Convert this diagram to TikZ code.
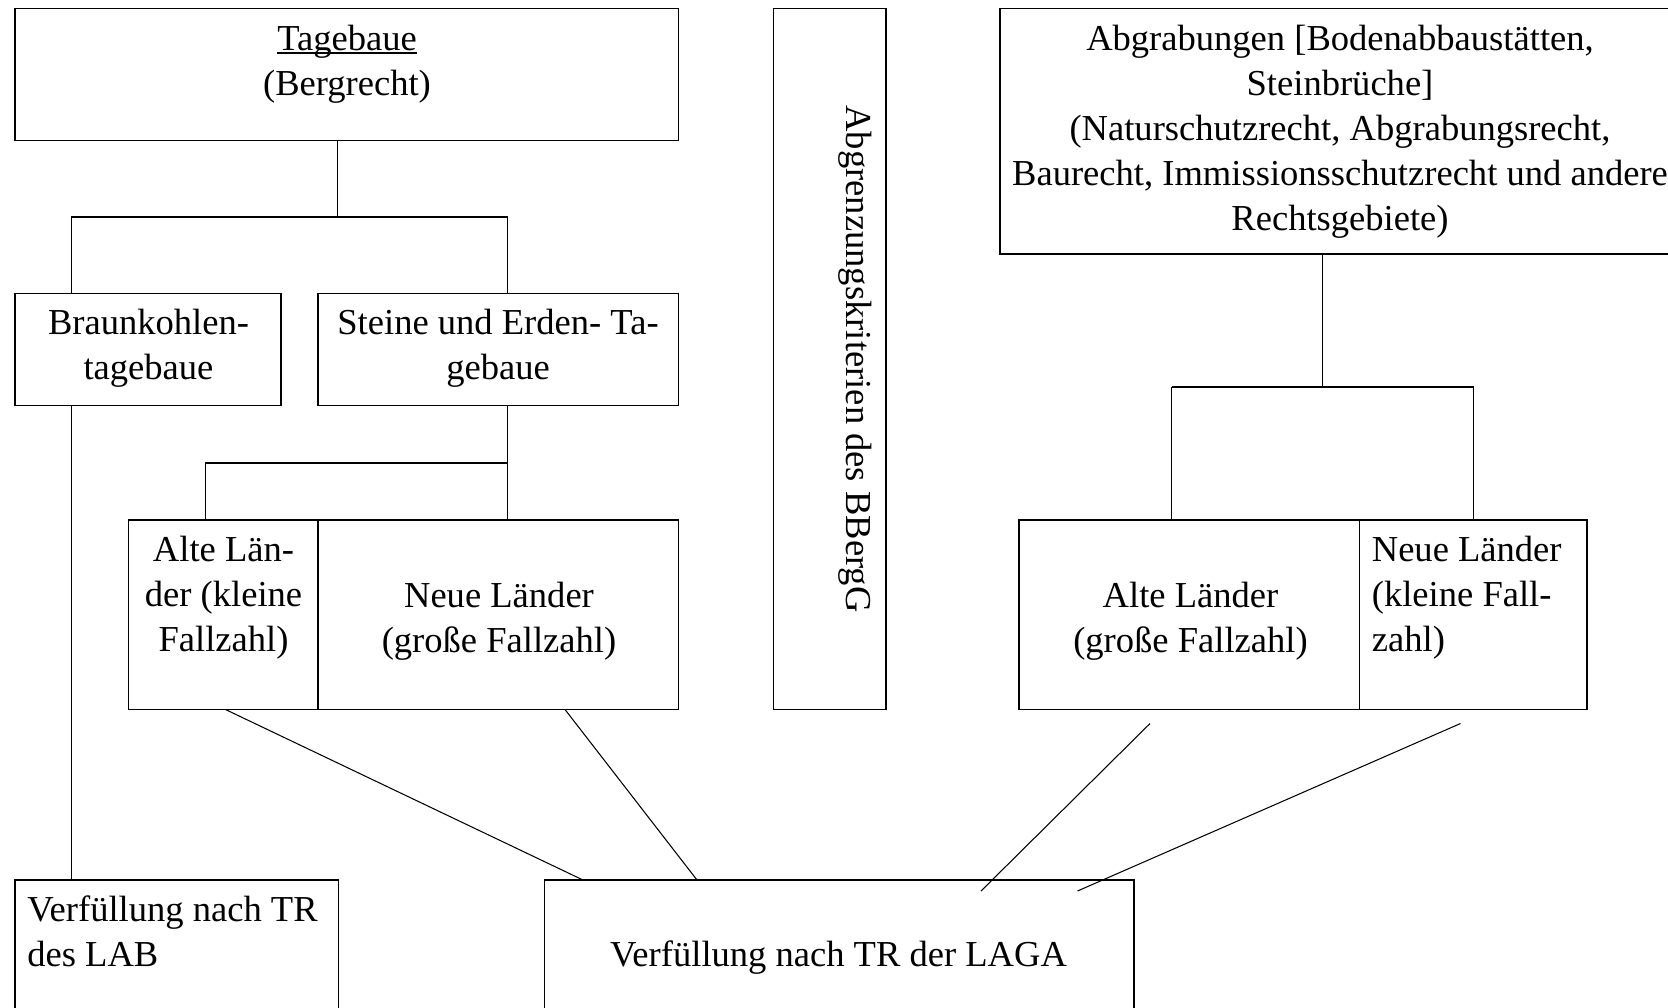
\documentclass[tikz,border=0pt]{standalone}
\usepackage{fontspec}
\setmainfont{Liberation Serif}
\usepackage{tikz}
\usetikzlibrary{calc}

\newcommand{\unterstrichen}[1]{\setbox0\hbox{#1}\rlap{\rule[-1.6pt]{\wd0}{0.9pt}}#1}

\begin{document}
\begin{tikzpicture}[inner sep=0pt,
	kasten/.style={draw=black, line width=1.1pt, rectangle},
	linie/.style={black, line width=0.6pt},
	txt/.style={font=\fontsize{20.8pt}{25.6pt}\selectfont, align=center, anchor=north},
	txtl/.style={txt, align=left, anchor=north west}]

	\useasboundingbox (0,0) rectangle (33.36,-20.14);

	% Kaesten
	\node[kasten, minimum width=13.27cm, minimum height=2.64cm](tagebaue) at (6.935,-1.49) {};
	\node[kasten, minimum width=5.32cm, minimum height=2.24cm](braunkohle) at (2.96,-6.99) {};
	\node[kasten, minimum width=7.21cm, minimum height=2.24cm](steine) at (9.965,-6.99) {};
	\node[kasten, minimum width=3.79cm, minimum height=3.79cm](altL) at (4.465,-12.295) {};
	\node[kasten, minimum width=7.21cm, minimum height=3.79cm](neuL) at (9.965,-12.295) {};
	\node[kasten, minimum width=2.25cm, minimum height=14.02cm](abgrenzung) at (16.595,-7.18) {};
	\node[kasten, minimum width=13.6cm, minimum height=4.91cm](abgrabung) at (26.8,-2.625) {};
	\node[kasten, minimum width=6.81cm, minimum height=3.79cm](altR) at (23.785,-12.295) {};
	\node[kasten, minimum width=4.55cm, minimum height=3.79cm](neuR) at (29.465,-12.295) {};
	\node[kasten, minimum width=6.47cm, minimum height=3.2cm](lab) at (3.535,-19.2) {};
	\node[kasten, minimum width=11.79cm, minimum height=3.2cm](laga) at (16.785,-19.2) {};

	% Texte
	\node[txt](tagebaue_txt) at (6.94,-0.50) {\unterstrichen{Tagebaue}\\(Bergrecht)};
	\node[txt](braunkohle_txt) at (2.97,-6.17) {Braunkohlen-\\tagebaue};
	\node[txt](steine_txt) at (9.96,-6.17) {Steine und Erden- Ta-\\gebaue};
	\node[txt](altL_txt) at (4.47,-10.71) {Alte Län-\\der (kleine\\Fallzahl)};
	\node[txt](neuL_txt) at (9.98,-11.64) {Neue Länder\\(große Fallzahl)};
	\node[txt, anchor=center, rotate=-90](abgrenzung_txt) at (17.11,-7.18) {Abgrenzungskriterien des BBergG};
	\node[txt](abgrabung_txt) at (26.8,-0.50) {Abgrabungen [Bodenabbaustätten,\\Steinbrüche]\\(Naturschutzrecht, Abgrabungsrecht,\\Baurecht, Immissionsschutzrecht und andere\\Rechtsgebiete)};
	\node[txt](altR_txt) at (23.81,-11.64) {Alte Länder\\(große Fallzahl)};
	\node[txtl](neuR_txt) at (27.43,-10.71) {Neue Länder\\(kleine Fall-\\zahl)};
	\node[txtl](lab_txt) at (0.54,-17.91) {Verfüllung nach TR\\des LAB};
	\node[txt](laga_txt) at (16.77,-18.80) {Verfüllung nach TR der LAGA};

	% Knoten
	\coordinate (t_knoten) at (6.744,-4.34);
	\coordinate (b_knoten) at (1.426,-4.34);
	\coordinate (s_knoten) at (10.15,-4.34);
	\coordinate (a_knoten) at (4.106,-9.26);
	\coordinate (n_knoten) at (10.15,-9.26);
	\coordinate (r_knoten) at (26.45,-7.74);
	\coordinate (ar_knoten) at (23.43,-7.74);
	\coordinate (nr_knoten) at (29.47,-7.74);

	\coordinate (d1_start) at (4.51,-14.19);
	\coordinate (d1_ende) at (11.66,-17.60);
	\coordinate (d2_start) at (11.30,-14.19);
	\coordinate (d2_ende) at (13.94,-17.60);
	\coordinate (d3_start) at (23.0,-14.47);
	\coordinate (d3_ende) at (19.62,-17.82);
	\coordinate (d4_start) at (29.21,-14.47);
	\coordinate (d4_ende) at (21.55,-17.82);

	% vertikale Linien
	\draw[linie] (t_knoten |- tagebaue.south) -- (t_knoten);
	\draw[linie] (b_knoten) -- (b_knoten |- braunkohle.north);
	\draw[linie] (s_knoten) -- (s_knoten |- steine.north);
	\draw[linie] (b_knoten |- braunkohle.south) -- (b_knoten |- lab.north);
	\draw[linie] (n_knoten |- steine.south) -- (n_knoten);
	\draw[linie] (a_knoten) -- (a_knoten |- altL.north);
	\draw[linie] (n_knoten) -- (n_knoten |- neuL.north);
	\draw[linie] (r_knoten |- abgrabung.south) -- (r_knoten);
	\draw[linie] (ar_knoten) -- (ar_knoten |- altR.north);
	\draw[linie] (nr_knoten) -- (nr_knoten |- neuR.north);

	% horizontale Linien
	\draw[linie] (b_knoten) -- (s_knoten);
	\draw[linie] (a_knoten) -- (n_knoten);
	\draw[linie] (ar_knoten) -- (nr_knoten);

	% schraege Linien
	\draw[linie] (d1_start) -- (d1_ende);
	\draw[linie] (d2_start) -- (d2_ende);
	\draw[linie] (d3_start) -- (d3_ende);
	\draw[linie] (d4_start) -- (d4_ende);
\end{tikzpicture}
\end{document}
